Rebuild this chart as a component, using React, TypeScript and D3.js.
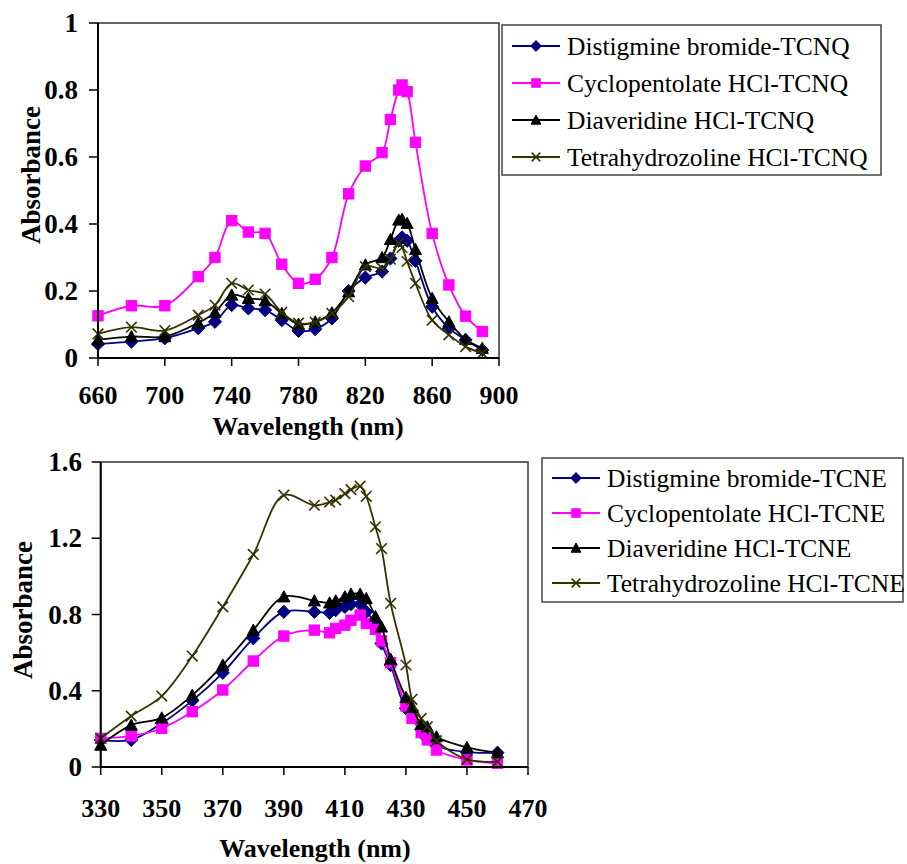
import React from "react";
import * as d3 from "d3";

// ---------- DATA ----------
const wavelengthsTCNQ = [660, 680, 700, 720, 730, 740, 750, 760, 770, 780, 790, 800, 810, 820, 830, 835, 840, 842, 845, 850, 860, 870, 880, 890];
const distigmineTCNQ = [0.042, 0.049, 0.059, 0.089, 0.108, 0.158, 0.148, 0.143, 0.113, 0.081, 0.086, 0.118, 0.2, 0.24, 0.258, 0.297, 0.35, 0.36, 0.35, 0.29, 0.153, 0.089, 0.054, 0.024];
const cyclopentolateTCNQ = [0.126, 0.156, 0.156, 0.243, 0.3, 0.41, 0.376, 0.372, 0.28, 0.223, 0.235, 0.3, 0.49, 0.573, 0.613, 0.712, 0.8, 0.815, 0.795, 0.644, 0.372, 0.218, 0.125, 0.079];
const diaveridineTCNQ = [0.054, 0.064, 0.064, 0.105, 0.136, 0.188, 0.178, 0.171, 0.133, 0.101, 0.108, 0.135, 0.198, 0.278, 0.3, 0.354, 0.412, 0.414, 0.402, 0.324, 0.178, 0.108, 0.056, 0.029];
const tetrahydrozolineTCNQ = [0.072, 0.092, 0.082, 0.128, 0.158, 0.223, 0.203, 0.191, 0.136, 0.104, 0.107, 0.133, 0.183, 0.273, 0.268, 0.295, 0.344, 0.33, 0.288, 0.223, 0.113, 0.069, 0.034, 0.014];
const namesTCNQ = ["Distigmine bromide-TCNQ", "Cyclopentolate HCl-TCNQ", "Diaveridine HCl-TCNQ", "Tetrahydrozoline HCl-TCNQ"];
const xTicksTCNQ = [660, 700, 740, 780, 820, 860, 900];
const yTicksTCNQ = [0, 0.2, 0.4, 0.6, 0.8, 1];

const wavelengthsTCNE = [330, 340, 350, 360, 370, 380, 390, 400, 405, 407, 410, 412, 415, 417, 420, 422, 425, 430, 432, 435, 437, 440, 450, 460];
const distigmineTCNE = [0.142, 0.142, 0.229, 0.348, 0.494, 0.675, 0.814, 0.814, 0.809, 0.823, 0.84, 0.854, 0.854, 0.814, 0.753, 0.648, 0.535, 0.308, 0.295, 0.198, 0.15, 0.11, 0.078, 0.075];
const cyclopentolateTCNE = [0.15, 0.163, 0.203, 0.29, 0.404, 0.556, 0.687, 0.718, 0.704, 0.727, 0.744, 0.77, 0.797, 0.753, 0.722, 0.662, 0.547, 0.32, 0.255, 0.18, 0.142, 0.089, 0.037, 0.02];
const diaveridineTCNE = [0.115, 0.22, 0.258, 0.377, 0.535, 0.718, 0.893, 0.872, 0.861, 0.872, 0.893, 0.907, 0.907, 0.884, 0.79, 0.735, 0.566, 0.365, 0.313, 0.224, 0.211, 0.159, 0.103, 0.075];
const tetrahydrozolineTCNE = [0.15, 0.267, 0.372, 0.582, 0.84, 1.115, 1.426, 1.373, 1.39, 1.4, 1.434, 1.455, 1.473, 1.42, 1.26, 1.146, 0.858, 0.535, 0.355, 0.255, 0.211, 0.138, 0.04, 0.028];
const namesTCNE = ["Distigmine bromide-TCNE", "Cyclopentolate HCl-TCNE", "Diaveridine HCl-TCNE", "Tetrahydrozoline HCl-TCNE"];
const xTicksTCNE = [330, 350, 370, 390, 410, 430, 450, 470];
const yTicksTCNE = [0, 0.4, 0.8, 1.2, 1.6];

const seriesColors = ["#000080", "#FF00FF", "#000000", "#333300"];
const seriesMarkers = ["diamond", "square", "triangle", "x"];

const FONT = "'Liberation Serif', 'Times New Roman', serif";

function Marker({ kind, x, y, color, s }: { kind: string; x: number; y: number; color: string; s: number }) {
  if (kind === "diamond") {
    const h = s * 0.6;
    return <path d={`M${x},${y - h}L${x + h},${y}L${x},${y + h}L${x - h},${y}Z`} fill={color} stroke={color} strokeWidth={1} />;
  }
  if (kind === "square") {
    const h = s * 0.47;
    return <rect x={x - h} y={y - h} width={2 * h} height={2 * h} fill={color} stroke={color} strokeWidth={1} />;
  }
  if (kind === "triangle") {
    const h = s * 0.55;
    return <path d={`M${x},${y - h}L${x + h},${y + h * 0.85}L${x - h},${y + h * 0.85}Z`} fill={color} stroke={color} strokeWidth={1} />;
  }
  const h = s * 0.48;
  return (
    <g stroke={color} strokeWidth={1.6}>
      <line x1={x - h} y1={y - h} x2={x + h} y2={y + h} />
      <line x1={x - h} y1={y + h} x2={x + h} y2={y - h} />
    </g>
  );
}

function Chart(props: {
  xs: number[];
  series: number[][];
  names: string[];
  xTicks: number[];
  yTicks: number[];
  xDomain: [number, number];
  yDomain: [number, number];
  box: { x0: number; x1: number; y0: number; y1: number };
  xLabelY: number;
  xTitleY: number;
  xTitleX: number;
  yLabelX: number;
  yTitleX: number;
  yTitleY: number;
  legend: { x0: number; x1: number; y0: number; y1: number; rows: number[] };
}) {
  const { box, legend } = props;
  const x = d3.scaleLinear().domain(props.xDomain).range([box.x0, box.x1]);
  const y = d3.scaleLinear().domain(props.yDomain).range([box.y1, box.y0]);
  const line = d3
    .line<number>()
    .x((_, i) => x(props.xs[i]))
    .y((d) => y(d))
    .curve(d3.curveCatmullRom.alpha(0.5));
  return (
    <g>
      <rect x={box.x0} y={box.y0} width={box.x1 - box.x0} height={box.y1 - box.y0} fill="white" stroke="#333" strokeWidth={1.5} />
      {props.series.map((vals, si) => (
        <g key={si}>
          <path d={line(vals) || ""} fill="none" stroke={seriesColors[si]} strokeWidth={1.8} />
          {vals.map((v, i) => (
            <Marker key={i} kind={seriesMarkers[si]} x={x(props.xs[i])} y={y(v)} color={seriesColors[si]} s={11} />
          ))}
        </g>
      ))}
      {/* axes */}
      <line x1={box.x0} y1={box.y0} x2={box.x0} y2={box.y1} stroke="#000" strokeWidth={2} />
      <line x1={box.x0} y1={box.y1} x2={box.x1} y2={box.y1} stroke="#000" strokeWidth={2} />
      {props.yTicks.map((t) => (
        <g key={"y" + t}>
          <line x1={box.x0 - 9} x2={box.x0} y1={y(t)} y2={y(t)} stroke="#000" strokeWidth={1.5} />
          <text x={props.yLabelX} y={y(t)} dy="0.34em" textAnchor="end" fontFamily={FONT} fontWeight="bold" fontSize={27}>
            {String(t)}
          </text>
        </g>
      ))}
      {props.xTicks.map((t) => (
        <g key={"x" + t}>
          <line x1={x(t)} x2={x(t)} y1={box.y1} y2={box.y1 + 8} stroke="#000" strokeWidth={1.5} />
          <text x={x(t)} y={props.xLabelY} textAnchor="middle" fontFamily={FONT} fontWeight="bold" fontSize={26}>
            {String(t)}
          </text>
        </g>
      ))}
      <text x={props.xTitleX} y={props.xTitleY} textAnchor="middle" fontFamily={FONT} fontWeight="bold" fontSize={26}>
        Wavelength (nm)
      </text>
      <text
        transform={`translate(${props.yTitleX},${props.yTitleY}) rotate(-90)`}
        textAnchor="middle"
        dy="0.35em"
        fontFamily={FONT}
        fontWeight="bold"
        fontSize={27}
      >
        Absorbance
      </text>
      {/* legend */}
      <rect x={legend.x0} y={legend.y0} width={legend.x1 - legend.x0} height={legend.y1 - legend.y0} fill="white" stroke="#444" strokeWidth={1.5} />
      {props.names.map((n, i) => {
        const ly = legend.rows[i];
        const lx0 = legend.x0 + 10;
        const lx1 = legend.x0 + 58;
        return (
          <g key={n}>
            <line x1={lx0} x2={lx1} y1={ly} y2={ly} stroke={seriesColors[i]} strokeWidth={1.8} />
            <Marker kind={seriesMarkers[i]} x={(lx0 + lx1) / 2} y={ly} color={seriesColors[i]} s={9} />
            <text x={legend.x0 + 65} y={ly + 8.5} fontFamily={FONT} fontSize={25.5}>
              {n}
            </text>
          </g>
        );
      })}
    </g>
  );
}

export default function App() {
  return (
    <svg width={907} height={864} style={{ position: "absolute", left: 0, top: 0, background: "white" }}>
      <rect x={0} y={0} width={907} height={864} fill="white" />
      <Chart
        xs={wavelengthsTCNQ}
        series={[distigmineTCNQ, cyclopentolateTCNQ, diaveridineTCNQ, tetrahydrozolineTCNQ]}
        names={namesTCNQ}
        xTicks={xTicksTCNQ}
        yTicks={yTicksTCNQ}
        xDomain={[660, 900]}
        yDomain={[0, 1]}
        box={{ x0: 98, x1: 499, y0: 23, y1: 358 }}
        xLabelY={404}
        xTitleY={435}
        xTitleX={308}
        yLabelX={78}
        yTitleX={31}
        yTitleY={175}
        legend={{ x0: 502, x1: 881, y0: 25, y1: 175, rows: [46, 83, 120, 157] }}
      />
      <Chart
        xs={wavelengthsTCNE}
        series={[distigmineTCNE, cyclopentolateTCNE, diaveridineTCNE, tetrahydrozolineTCNE]}
        names={namesTCNE}
        xTicks={xTicksTCNE}
        yTicks={yTicksTCNE}
        xDomain={[330, 470]}
        yDomain={[0, 1.6]}
        box={{ x0: 100.7, x1: 528, y0: 462, y1: 767 }}
        xLabelY={817}
        xTitleY={857}
        xTitleX={315}
        yLabelX={82}
        yTitleX={23}
        yTitleY={610}
        legend={{ x0: 542, x1: 903, y0: 458, y1: 602, rows: [478, 513, 548, 583] }}
      />
    </svg>
  );
}
